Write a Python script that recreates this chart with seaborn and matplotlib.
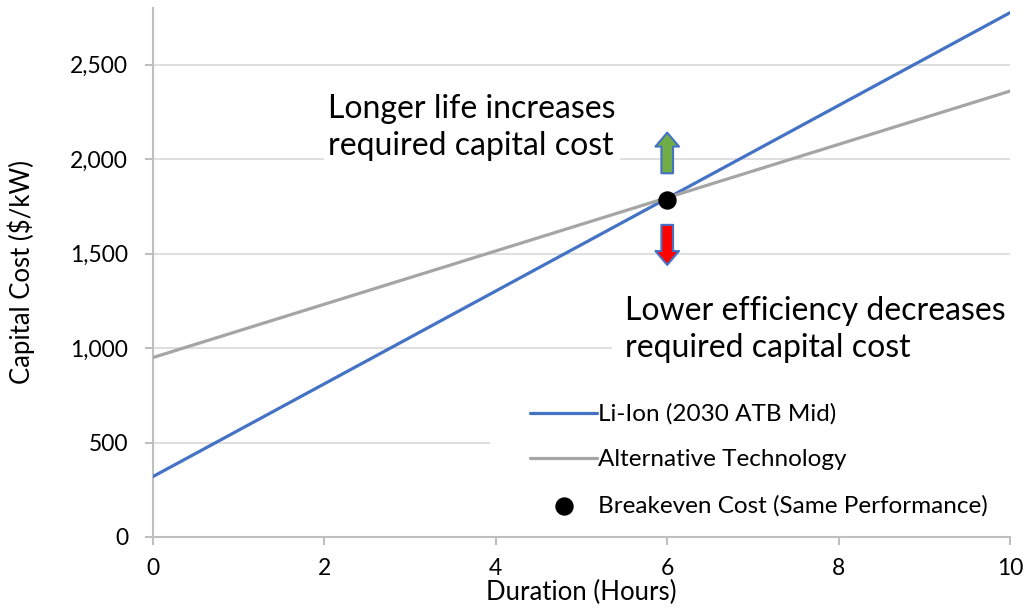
import seaborn as sns
import matplotlib.pyplot as plt
import pandas as pd
from matplotlib.ticker import StrMethodFormatter
from matplotlib.patches import Rectangle

# values
duration = [0, 10]
li_ion = [320, 2775]
alt_tech = [950, 2360]
breakeven_x = [6]
breakeven_y = [1785]
arrow_up = (1925, 2140)
arrow_down = (1652, 1440)

lines = pd.DataFrame({
    'Duration': duration * 2,
    'Cost': li_ion + alt_tech,
    'Series': ['Li-Ion (2030 ATB Mid)'] * 2 + ['Alternative Technology'] * 2,
})
point = pd.DataFrame({'Duration': breakeven_x, 'Cost': breakeven_y})

sns.set_theme(style='white')
plt.rcParams['font.family'] = ['Lato', 'DejaVu Sans']
plt.rcParams['text.color'] = 'black'
plt.rcParams['axes.labelcolor'] = 'black'

fig = plt.figure(figsize=(10.32, 6.13), dpi=100)
ax = fig.add_axes([0.1483, 0.124, 0.8304, 0.863])

sns.lineplot(data=lines, x='Duration', y='Cost', hue='Series',
             palette=['#4472C4', '#A5A5A5'], linewidth=2.3, ax=ax, zorder=3)
sns.scatterplot(data=point, x='Duration', y='Cost', color='black', s=150,
                ax=ax, zorder=5, label='Breakeven Cost (Same Performance)', edgecolor='black')

ax.set_xlim(0, 10)
ax.set_ylim(0, 2800)
ax.set_xticks([0, 2, 4, 6, 8, 10])
ax.set_yticks([0, 500, 1000, 1500, 2000, 2500])
ax.yaxis.set_major_formatter(StrMethodFormatter('{x:,.0f}'))
ax.grid(axis='y', color='#D9D9D9', linewidth=1.2, zorder=0)
ax.set_axisbelow(True)

for s in ['top', 'right']:
    ax.spines[s].set_visible(False)
for s in ['left', 'bottom']:
    ax.spines[s].set_color('#BFBFBF')
    ax.spines[s].set_linewidth(1.5)
ax.tick_params(axis='both', which='major', length=6, width=1.5, color='#BFBFBF',
               labelsize=16.5, labelcolor='black', direction='out')
ax.tick_params(axis='x', pad=9, bottom=True)
ax.tick_params(axis='y', pad=12, left=True)
ax.set_xlabel('Duration (Hours)', fontsize=18.5, labelpad=1)
ax.set_ylabel('Capital Cost ($/kW)', fontsize=18.5, labelpad=25)

# arrows around the breakeven point
style = 'simple,head_width=0.85,head_length=0.5,tail_width=0.42'
ax.annotate('', xy=(6, arrow_up[1]), xytext=(6, arrow_up[0]),
            arrowprops=dict(arrowstyle=style, fc='#70AD47', ec='#4472C4', lw=1.5,
                            shrinkA=0, shrinkB=0, mutation_scale=20), zorder=4)
ax.annotate('', xy=(6, arrow_down[1]), xytext=(6, arrow_down[0]),
            arrowprops=dict(arrowstyle=style, fc='#FF0000', ec='#4472C4', lw=1.5,
                            shrinkA=0, shrinkB=0, mutation_scale=20), zorder=4)

ax.text(2.04, 2168, 'Longer life increases\nrequired capital cost', fontsize=23,
        ha='left', va='center', linespacing=1.3, zorder=2,
        bbox=dict(facecolor='white', edgecolor='none', pad=3))
ax.text(5.51, 1098, 'Lower efficiency decreases\nrequired capital cost', fontsize=23,
        ha='left', va='center', linespacing=1.3, zorder=2,
        bbox=dict(facecolor='white', edgecolor='none', pad=10))

ax.add_patch(Rectangle((0.393, 0.02), 0.607, 0.25, transform=ax.transAxes,
                       facecolor='white', edgecolor='none', zorder=1))
leg = ax.legend(loc='upper left', bbox_to_anchor=(0.4317, 0.266), fontsize=17.5,
                frameon=False, handlelength=2.75, handletextpad=0.05,
                labelspacing=1.0, borderaxespad=0, borderpad=0.3)

fig.savefig('out.png', dpi=100)
